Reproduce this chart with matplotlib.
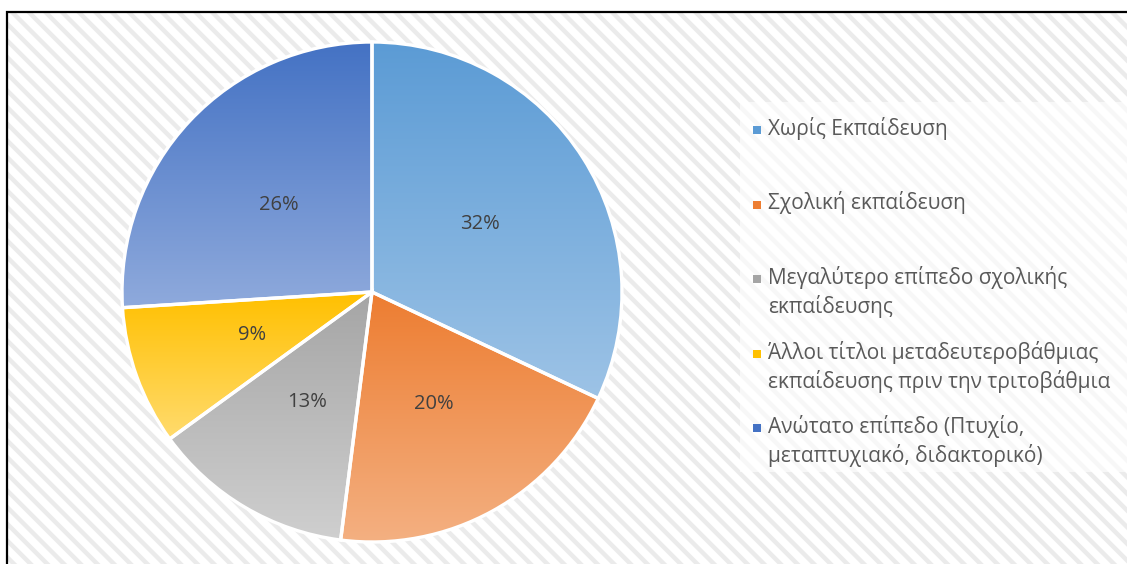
import numpy as np
import matplotlib
matplotlib.use("Agg")
import matplotlib.pyplot as plt
from matplotlib.patches import Rectangle
from matplotlib.colors import LinearSegmentedColormap

plt.rcParams['font.family'] = ['Open Sans', 'DejaVu Sans']
plt.rcParams['hatch.linewidth'] = 3.2
plt.rcParams['hatch.color'] = '#ebebeb'

# data
categories = ["Χωρίς Εκπαίδευση",
              "Σχολική εκπαίδευση",
              "Μεγαλύτερο επίπεδο σχολικής\nεκπαίδευσης",
              "Άλλοι τίτλοι μεταδευτεροβάθμιας\nεκπαίδευσης πριν την τριτοβάθμια",
              "Ανώτατο επίπεδο (Πτυχίο,\nμεταπτυχιακό, διδακτορικό)"]
shares = [32, 20, 13, 9, 26]
top_colors = ["#5B9BD5", "#ED7D31", "#A5A5A5", "#FFC000", "#4472C4"]
bottom_colors = ["#9DC3E6", "#F4B183", "#CFCFCF", "#FFDB6E", "#8FAADC"]

W, H = 1127, 564
fig = plt.figure(figsize=(W / 100, H / 100), dpi=100)

# hatched background inside the black frame
bg = Rectangle((7 / W, -0.1), 1.1, (H - 12) / H + 0.1, transform=fig.transFigure,
               facecolor='white', edgecolor='#ebebeb', hatch='\\\\', lw=0, zorder=-10)
fig.patches.append(bg)

# pie axes: centre (372, 292) px, radius 250 px
cx, cy, r = 372, 292, 250
ax = fig.add_axes([(cx - r) / W, (H - cy - r) / H, 2 * r / W, 2 * r / H])
wedges, texts, autotexts = ax.pie(shares, startangle=90, counterclock=False,
                                  autopct='%1.0f%%', pctdistance=0.51,
                                  wedgeprops=dict(edgecolor='white', linewidth=2.4),
                                  textprops=dict(color='#404040', fontsize=14.5))
ax.set_aspect('auto')

for w, c0, c1 in zip(wedges, top_colors, bottom_colors):
    verts = w.get_patch_transform().transform(w.get_path().vertices)
    x0, y0 = verts.min(axis=0)
    x1, y1 = verts.max(axis=0)
    cmap = LinearSegmentedColormap.from_list('g', [c0, c1])
    grad = np.linspace(0, 1, 256).reshape(-1, 1)
    im = ax.imshow(grad, cmap=cmap, extent=(x0, x1, y0, y1), origin='upper',
                   aspect='auto', zorder=1, interpolation='bilinear')
    im.set_clip_path(w)
    w.set_facecolor('none')
    w.set_zorder(2)
for t in autotexts:
    t.set_zorder(3)
ax.set_xlim(-1, 1)
ax.set_ylim(-1, 1)

# legend area
lg = fig.add_axes([0, 0, 1, 1], zorder=-1)
lg.set_xlim(0, W)
lg.set_ylim(H, 0)
lg.axis('off')
lg.add_patch(Rectangle((740, 102), W - 740, 370, facecolor='white', alpha=0.65, lw=0))
for i, (lab, c0, c1) in enumerate(zip(categories, top_colors, bottom_colors)):
    y = 130 + 74.5 * i
    lg.add_patch(Rectangle((753, y - 4), 8, 8, facecolor=c0, lw=0))
    lg.text(768, y - 13, lab, color='#595959', fontsize=15, va='top', linespacing=1.35)

# black frame
frame = Rectangle((7 / W, -0.1), 1.1, (H - 12) / H + 0.1, transform=fig.transFigure,
                  facecolor='none', edgecolor='black', lw=1.6, zorder=10)
fig.patches.append(frame)

fig.savefig("out.png", dpi=100)
